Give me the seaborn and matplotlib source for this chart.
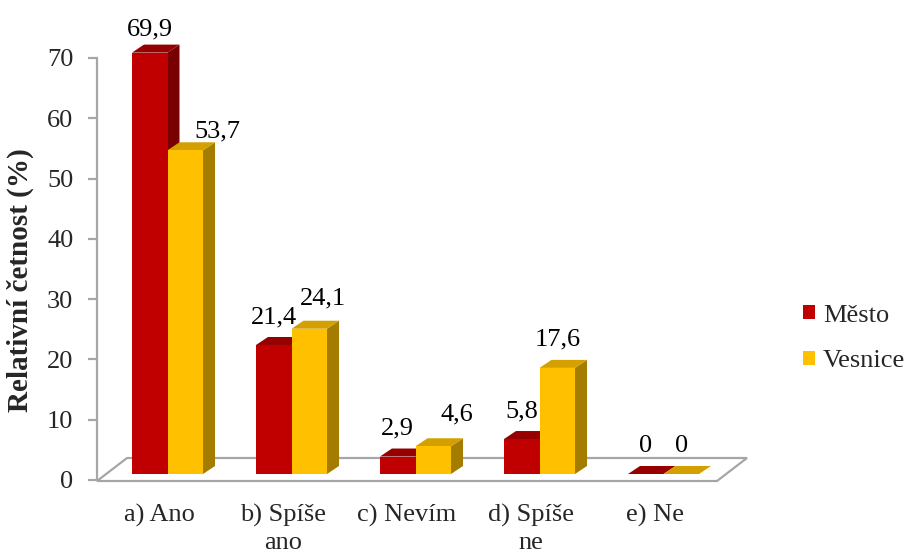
import matplotlib
matplotlib.use("Agg")
import matplotlib.pyplot as plt
import numpy as np
import pandas as pd
import seaborn as sns
from matplotlib.patches import Polygon

# ---- data ----
categories = ["a) Ano", "b) Spíše\nano", "c) Nevím", "d) Spíše\nne", "e) Ne"]
series = ["Město", "Vesnice"]
mesto = [69.9, 21.4, 2.9, 5.8, 0.0]
vesnice = [53.7, 24.1, 4.6, 17.6, 0.0]
yticks = [0, 10, 20, 30, 40, 50, 60, 70]
ylabel = "Relativní četnost (%)"

# ---- style ----
front_colors = ["#C00000", "#FFC000"]
top_colors = ["#960000", "#D4A000"]
side_colors = ["#780000", "#A47C00"]
grey = "#A6A6A6"
FS = 19
# label nudges in pixels (series index, category index) -> (dx, dy)
label_nudge = {(0, 0): (0, 15), (1, 0): (32, 11), (1, 1): (14, 22), (1, 2): (24, 24)}

sns.set_theme(style="white")
plt.rcParams["font.family"] = ["Liberation Serif", "DejaVu Serif"]

df = pd.DataFrame({
    "kategorie": categories * 2,
    "skupina": [series[0]] * len(categories) + [series[1]] * len(categories),
    "hodnota": mesto + vesnice,
})

W, H = 913, 556
fig = plt.figure(figsize=(W / 100, H / 100), dpi=100)
ax = fig.add_axes([97 / W, (H - 480) / H, 620 / W, 422 / H])

sns.barplot(data=df, x="kategorie", y="hodnota", hue="skupina", hue_order=series,
            palette=front_colors, saturation=1, width=0.573, gap=0,
            errorbar=None, linewidth=0, ax=ax)
ax.set_xlim(-0.5, len(categories) - 0.5)
ax.set_ylim(0, 70)

# pixel -> data size helpers
def px(dx, dy):
    inv = ax.transData.inverted()
    o = ax.transData.transform((0, 0))
    p = inv.transform((o[0] + dx, o[1] + dy))
    return p[0], p[1]

sx, sy = px(8.5, 6)       # shift of bars into the floor depth
ddx, ddy = px(12, 8)      # bar depth
fdx, fdy = px(30, 23)     # floor depth
_, f0 = px(0, -1)

# floor
floor = Polygon([(-0.5, f0), (len(categories) - 0.5, f0),
                 (len(categories) - 0.5 + fdx, f0 + fdy), (-0.5 + fdx, f0 + fdy)],
                closed=True, facecolor="white", edgecolor=grey, lw=1.6,
                zorder=1, clip_on=False)
ax.add_patch(floor)

for si, cont in enumerate(ax.containers):
    base_z = 2 + si
    for ci, bar in enumerate(cont.patches):
        x0 = bar.get_x() + sx
        w = bar.get_width()
        h = bar.get_height()
        y0 = sy
        bar.set_x(x0)
        bar.set_y(y0)
        bar.set_zorder(base_z + 0.3)
        bar.set_clip_on(False)
        side = Polygon([(x0 + w, y0), (x0 + w + ddx, y0 + ddy),
                        (x0 + w + ddx, y0 + h + ddy), (x0 + w, y0 + h)],
                       closed=True, facecolor=side_colors[si], edgecolor="none",
                       zorder=base_z + 0.1, clip_on=False)
        top = Polygon([(x0, y0 + h), (x0 + w, y0 + h),
                       (x0 + w + ddx, y0 + h + ddy), (x0 + ddx, y0 + h + ddy)],
                      closed=True, facecolor=top_colors[si], edgecolor="none",
                      zorder=base_z + 0.2, clip_on=False)
        ax.add_patch(side)
        ax.add_patch(top)
        val = (mesto if si == 0 else vesnice)[ci]
        txt = f"{val:g}".replace(".", ",")
        nx, ny = label_nudge.get((si, ci), (0, 20))
        ax.annotate(txt, xy=(x0 + w / 2, y0 + h + ddy), xytext=(nx, ny),
                    textcoords="offset pixels", ha="center", va="center",
                    fontsize=FS, color="black", zorder=10, annotation_clip=False)

# axes styling
for s in ["top", "right", "bottom"]:
    ax.spines[s].set_visible(False)
ax.spines["left"].set_color(grey)
ax.spines["left"].set_linewidth(1.6)
ax.set_yticks(yticks)
ax.set_yticklabels([str(t) for t in yticks])
ax.tick_params(axis="y", length=6.5, width=1.6, color=grey, direction="out",
               labelsize=FS, pad=10.5, left=True)
ax.tick_params(axis="x", length=0, labelsize=FS, pad=17)
for lab in ax.get_xticklabels():
    lab.set_linespacing(1.3)
ax.set_xlabel("")
ax.set_ylabel(ylabel, fontsize=21, fontweight="bold")
ax.yaxis.set_label_coords(-0.102, 0.474)

sns.move_legend(ax, "center left", bbox_to_anchor=(803 / W, (H - 338.5) / H),
                bbox_transform=fig.transFigure, frameon=False, title=None,
                handlelength=0.45, handleheight=0.45, handletextpad=0.3,
                labelspacing=0.89, fontsize=FS, borderpad=0, borderaxespad=0)

fig.savefig("out.png", dpi=100)
